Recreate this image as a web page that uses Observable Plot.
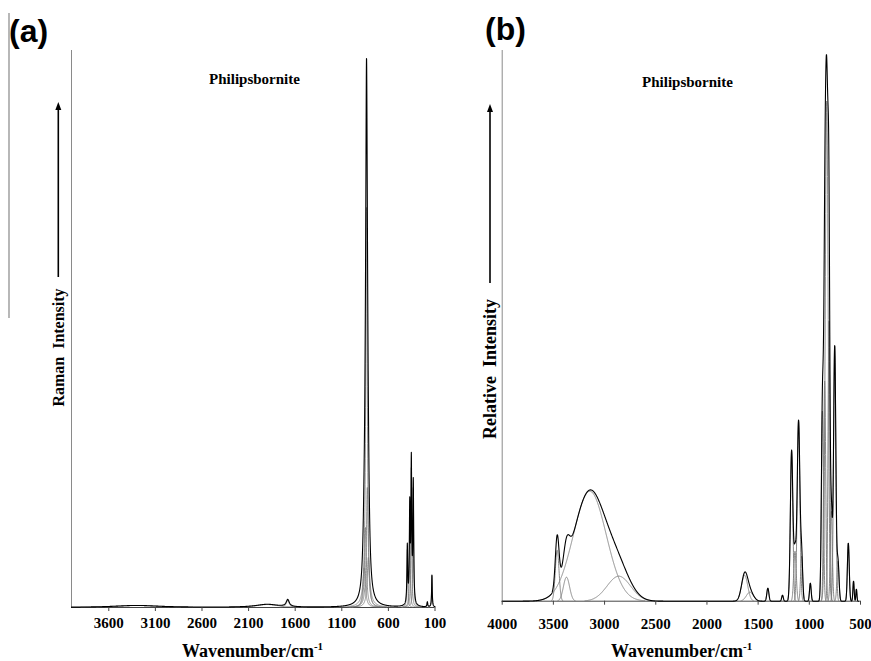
<!DOCTYPE html>
<html><head><meta charset="utf-8">
<script src="https://cdn.jsdelivr.net/npm/d3@7"></script>
<script src="https://cdn.jsdelivr.net/npm/@observablehq/plot@0.6"></script>
<style>
html,body{margin:0;padding:0;background:#fff;}
#root{position:relative;width:871px;height:661px;overflow:hidden;}
.panel{position:absolute;top:0;}
#overlay{position:absolute;left:0;top:0;pointer-events:none;}
</style>
</head><body>
<div id="root">
  <div id="pa" class="panel" style="left:0px"></div>
  <div id="pb" class="panel" style="left:440px"></div>
  <svg id="overlay" width="871" height="661"></svg>
</div>
<script>
// ---------- Panel (a): Raman spectrum, Lorentzian bands (cm-1, intensity, half width) ----------
const xDomainA = [4000, 100];
const xTicksA = [3600, 3100, 2600, 2100, 1600, 1100, 600, 100];
const yMaxA = 557;
const bandCenterA = [835, 826, 846, 815, 860, 354, 333, 371, 397, 133, 182, 1680, 1900, 3300];
const bandHeightA = [400, 120, 80, 50, 40, 140, 120, 95, 58, 32, 5, 7, 3, 2];
const bandWidthA  = [10, 12, 12, 15, 15, 5, 5, 5, 5, 4, 5, 20, 150, 300];

// ---------- Panel (b): band-fitted spectrum, Gaussian bands (cm-1, intensity, sigma) ----------
const xDomainB = [4000, 500];
const xTicksB = [4000, 3500, 3000, 2500, 2000, 1500, 1000, 500];
const yMaxB = 550.7;
const bandCenterB = [3144, 3463, 3372, 2861, 1632, 1580, 1405, 1262, 1173, 1140, 1105, 1075, 990, 872, 850, 830, 808, 785, 752, 720, 619, 568, 540];
const bandHeightB = [110, 51, 24, 25, 26, 9, 13, 6, 150, 50, 180, 45, 18, 190, 220, 500, 280, 90, 255, 40, 58, 20, 12];
const bandWidthB  = [160, 18, 30, 115, 30, 35, 10, 8, 12, 12, 13, 10, 8, 10, 10, 14, 9, 10, 11, 10, 9, 6, 5];

function lorentz(x, c, h, w) { return h / (1 + ((x - c) / w) ** 2); }
function gauss(x, c, h, s) { return h * Math.exp(-((x - c) ** 2) / (2 * s * s)); }

function build(centers, heights, widths, shape, lo, hi) {
  const comps = [], sum = [];
  for (let x = lo; x <= hi; x += 1) {
    let t = 0;
    for (let i = 0; i < centers.length; i++) {
      const v = shape(x, centers[i], heights[i], widths[i]);
      t += v;
      if (v > 0.4) comps.push({wn: x, v, band: i});
    }
    sum.push({wn: x, v: t});
  }
  return {comps, sum};
}

const A = build(bandCenterA, bandHeightA, bandWidthA, lorentz, 100, 4000);
const B = build(bandCenterB, bandHeightB, bandWidthB, gauss, 520, 4000);

const axisStyle = {fontFamily: "'Liberation Serif','Times New Roman',serif", fontSize: "15px", fontWeight: "bold", color: "#000", background: "transparent", overflow: "visible"};

const plotA = Plot.plot({
  width: 440, height: 661,
  marginLeft: 71, marginRight: 5.5, marginTop: 50, marginBottom: 54,
  style: axisStyle,
  x: {domain: xDomainA, label: null},
  y: {domain: [0, yMaxA], axis: null},
  marks: [
    Plot.ruleX([xDomainA[0]], {y1: 0, y2: yMaxA, stroke: "#8a8a8a", strokeWidth: 1}),
    Plot.ruleY([0], {stroke: "#444", strokeWidth: 1}),
    Plot.line(A.comps, {x: "wn", y: "v", z: "band", stroke: "#7a7a7a", strokeWidth: 0.8}),
    Plot.line(A.sum, {x: "wn", y: "v", stroke: "#000", strokeWidth: 1.1}),
    Plot.axisX({ticks: xTicksA, tickFormat: "d", tickSize: 4, tickPadding: 6, label: null, stroke: "#444"})
  ]
});
document.getElementById("pa").appendChild(plotA);

const plotB = Plot.plot({
  width: 431, height: 661,
  marginLeft: 61.7, marginRight: 11, marginTop: 50, marginBottom: 60.3,
  style: axisStyle,
  x: {domain: xDomainB, label: null},
  y: {domain: [0, yMaxB], axis: null},
  marks: [
    Plot.ruleX([xDomainB[0]], {y1: 0, y2: yMaxB, stroke: "#8a8a8a", strokeWidth: 1}),
    Plot.ruleY([0], {stroke: "#444", strokeWidth: 1}),
    Plot.line(B.comps, {x: "wn", y: "v", z: "band", stroke: "#7a7a7a", strokeWidth: 0.9}),
    Plot.line(B.sum, {x: "wn", y: "v", stroke: "#000", strokeWidth: 1.1}),
    Plot.axisX({ticks: xTicksB, tickFormat: "d", tickSize: 4, tickPadding: 13, label: null, stroke: "#444"})
  ]
});
document.getElementById("pb").appendChild(plotB);

// ---------- Overlay: titles, axis titles, arrows ----------
const ov = d3.select("#overlay");
const serif = "'Liberation Serif','Times New Roman',serif";
const sans = "'Liberation Sans',Arial,sans-serif";

ov.append("line").attr("x1", 9).attr("x2", 9).attr("y1", 13).attr("y2", 318).attr("stroke", "#888").attr("stroke-width", 1.2);

const panelLabels = [["(a)", 9, 42], ["(b)", 485, 40]];
panelLabels.forEach(([t, x, y]) => ov.append("text").attr("x", x).attr("y", y).attr("font-family", sans).attr("font-weight", "bold").attr("font-size", 32).text(t));

const titles = [["Philipsbornite", 254.5, 84], ["Philipsbornite", 687.5, 87]];
titles.forEach(([t, x, y]) => ov.append("text").attr("x", x).attr("y", y).attr("text-anchor", "middle").attr("font-family", serif).attr("font-weight", "bold").attr("font-size", 15).text(t));

const xTitles = [[252.5, 657], [681.7, 657]];
xTitles.forEach(([x, y]) => {
  const t = ov.append("text").attr("x", x).attr("y", y).attr("text-anchor", "middle").attr("font-family", serif).attr("font-weight", "bold").attr("font-size", 18);
  t.append("tspan").text("Wavenumber/cm");
  t.append("tspan").attr("font-size", 11).attr("dy", -7).text("-1");
});

const yTitles = [["Raman  Intensity", 58.3, 347.5, 16], ["Relative  Intensity", 490, 369, 18]];
yTitles.forEach(([t, x, y, fs]) => ov.append("text").attr("transform", `translate(${x},${y}) rotate(-90)`).attr("text-anchor", "middle").attr("dominant-baseline", "central").attr("font-family", serif).attr("font-weight", "bold").attr("font-size", fs).style("white-space", "pre").text(t));

const arrows = [[58.3, 277, 102], [490, 283, 104]];
arrows.forEach(([x, y0, y1]) => {
  ov.append("line").attr("x1", x).attr("x2", x).attr("y1", y0).attr("y2", y1 + 6).attr("stroke", "#000").attr("stroke-width", 1.6);
  ov.append("path").attr("d", `M${x},${y1} L${x - 3},${y1 + 8} L${x + 3},${y1 + 8} Z`).attr("fill", "#000");
});
</script>
</body></html>
